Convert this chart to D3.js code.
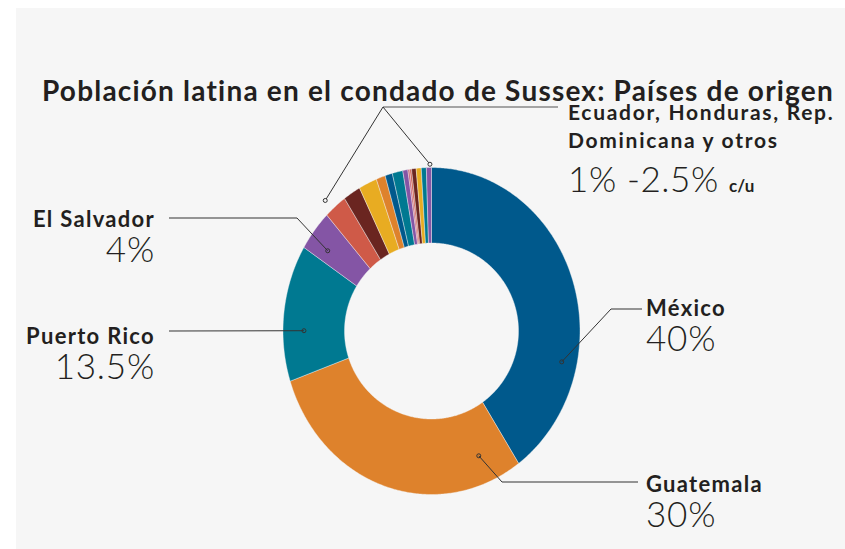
<!DOCTYPE html>
<html>
<head>
<meta charset="utf-8">
<script src="https://cdn.jsdelivr.net/npm/d3@7"></script>
<style>
  body { margin: 0; background: #fff; }
  svg text { font-family: Lato, "Open Sans", sans-serif; fill: #231f20; }
</style>
</head>
<body>
<div id="chart"></div>
<script>
const width = 845;
const height = 549;

// countries, in drawing order (clockwise from 12 o'clock)
const countries = [
  "México", "Guatemala", "Puerto Rico", "El Salvador",
  "Otro 1", "Otro 2", "Otro 3", "Otro 4", "Otro 5", "Otro 6", "Otro 7",
  "Otro 8", "Otro 9", "Otro 10", "Otro 11", "Otro 12", "Otro 13"
];
const shares = [40, 30, 13.5, 4, 2.5, 1.9, 2.0, 1.0, 0.8, 1.15, 0.55, 0.2, 0.2, 0.5, 0.55, 0.55, 0.55];
const colors = [
  "#00598c", "#de822c", "#007991", "#8455a5",
  "#cf5a48", "#6a2520", "#e8ac22", "#de822c", "#00598c", "#007991", "#8455a5",
  "#c8647a", "#cf5a48", "#6a2520", "#e8ac22", "#007991", "#8455a5"
];

const title = "Población latina en el condado de Sussex: Países de origen";

// leader label annotations
const labelNames = ["México", "Guatemala", "Puerto Rico", "El Salvador"];
const labelValues = ["40%", "30%", "13.5%", "4%"];

const svg = d3.select("#chart").append("svg")
  .attr("width", width)
  .attr("height", height);

svg.append("rect")
  .attr("x", 16).attr("y", 8)
  .attr("width", width - 16).attr("height", height - 8)
  .attr("fill", "#f6f6f6");

// ring is a bit squeezed horizontally in the original
const cx = 431.5, cy = 331;
const outerRx = 148.5, outerRy = 163.5;
const innerRx = 87, innerRy = 88;

const data = countries.map((c, i) => ({ name: c, value: shares[i], color: colors[i] }));

const pie = d3.pie().sort(null).value(d => d.value);
const arcs = pie(data);

function pt(a, rx, ry) {
  return [cx + rx * Math.sin(a), cy - ry * Math.cos(a)];
}

// elliptical ring slice, sampled along the angle
function slicePath(d) {
  const n = Math.max(2, Math.ceil((d.endAngle - d.startAngle) / 0.01));
  const angles = d3.range(n + 1).map(k => d.startAngle + (k / n) * (d.endAngle - d.startAngle));
  const outer = angles.map(a => pt(a, outerRx, outerRy));
  const inner = angles.slice().reverse().map(a => pt(a, innerRx, innerRy));
  return d3.line()(outer.concat(inner)) + "Z";
}

svg.append("g")
  .selectAll("path")
  .data(arcs)
  .enter()
  .append("path")
  .attr("d", slicePath)
  .attr("fill", d => d.data.color)
  .attr("stroke", "#f6f6f6")
  .attr("stroke-width", 0.4);

// point on a slice: fraction along its angle, t times the outer radius
function slicePoint(i, frac, t) {
  const a = arcs[i].startAngle + frac * (arcs[i].endAngle - arcs[i].startAngle);
  return pt(a, outerRx * t, outerRy * t);
}

const leaders = [
  { i: 0, frac: 0.709, t: 0.897, bend: [611, 309], end: [642, 309], tx: 646, ty: 316, anchor: "start" },
  { i: 1, frac: 0.123, t: 0.827, bend: [502, 482], end: [638, 482], tx: 646, ty: 492, anchor: "start" },
  { i: 2, frac: 0.37, t: 0.859, bend: null, end: [169, 331], tx: 155, ty: 344, anchor: "end" },
  { i: 3, frac: 0.3, t: 0.854, bend: [297, 218], end: [169, 218], tx: 155, ty: 227, anchor: "end" }
];

const line = d3.line();

leaders.forEach((l, k) => {
  const p = slicePoint(l.i, l.frac, l.t);
  const pts = l.bend ? [p, l.bend, l.end] : [p, l.end];
  svg.append("path")
    .attr("d", line(pts))
    .attr("fill", "none")
    .attr("stroke", "#333")
    .attr("stroke-width", 1);
  svg.append("circle")
    .attr("cx", p[0]).attr("cy", p[1]).attr("r", 2)
    .attr("fill", "none").attr("stroke", "#333").attr("stroke-width", 1);

  svg.append("text")
    .attr("x", l.tx).attr("y", l.ty)
    .attr("text-anchor", l.anchor)
    .attr("font-size", 22).attr("font-weight", 700)
    .attr("letter-spacing", 1.3)
    .text(labelNames[k]);
  svg.append("text")
    .attr("x", l.tx).attr("y", l.ty + 35)
    .attr("text-anchor", l.anchor)
    .attr("font-size", 35).attr("font-weight", 300)
    .attr("letter-spacing", 0.8)
    .text(labelValues[k]);
});

// "others" bracket
const firstOther = 4, lastOther = arcs.length - 1;
const pL = slicePoint(firstOther, 0.33, 1.072);
const pR = slicePoint(lastOther, 0.7, 1.02);
const vertex = [383, 107];
svg.append("path")
  .attr("d", line([vertex, [558, 107]]))
  .attr("fill", "none").attr("stroke", "#888").attr("stroke-width", 1.5);
svg.append("path")
  .attr("d", line([pL, vertex, pR]))
  .attr("fill", "none").attr("stroke", "#333").attr("stroke-width", 1);
[pL, pR].forEach(p => {
  svg.append("circle")
    .attr("cx", p[0]).attr("cy", p[1]).attr("r", 2)
    .attr("fill", "#f6f6f6").attr("stroke", "#333").attr("stroke-width", 1);
});

svg.append("text")
  .attr("x", 42).attr("y", 101)
  .attr("font-size", 28).attr("font-weight", 700)
  .attr("letter-spacing", 1.2)
  .text(title);

svg.append("text")
  .attr("x", 568).attr("y", 120)
  .attr("font-size", 21).attr("font-weight", 700)
  .attr("letter-spacing", 1.7)
  .text("Ecuador, Honduras, Rep.");
svg.append("text")
  .attr("x", 568).attr("y", 148)
  .attr("font-size", 21).attr("font-weight", 700)
  .attr("letter-spacing", 1.7)
  .text("Dominicana y otros");
const ot = svg.append("text")
  .attr("x", 568).attr("y", 192);
ot.append("tspan").attr("font-size", 35).attr("font-weight", 300).attr("letter-spacing", 0.6).text("1% -2.5% ");
ot.append("tspan").attr("font-size", 17).attr("font-weight", 700).text("c/u");
</script>
</body>
</html>
